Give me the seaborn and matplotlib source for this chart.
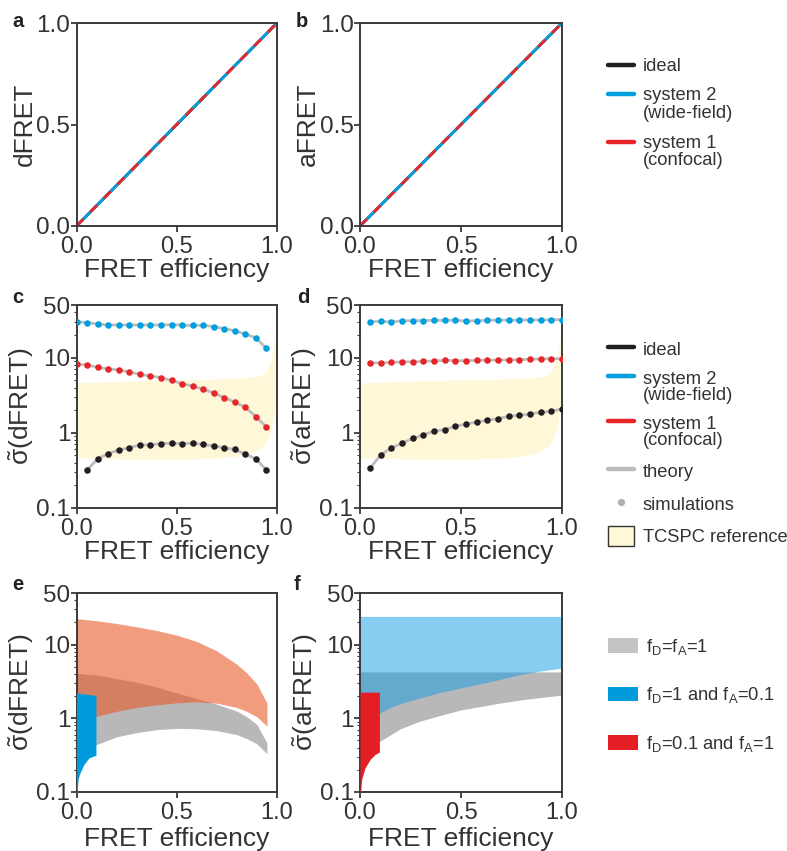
import numpy as np
import pandas as pd
import matplotlib
matplotlib.use("Agg")
import matplotlib.pyplot as plt
import seaborn as sns
from matplotlib.lines import Line2D
from matplotlib.patches import Patch
from matplotlib.ticker import LogLocator, NullFormatter, FixedLocator

# ---------------- data ----------------
# panels a, b (calibration lines)
E_ab = [0.0, 1.0]
dfret_ideal = [0.0, 1.0]
dfret_sys2 = [0.0, 1.0]
dfret_sys1 = [0.0, 1.0]
afret_ideal = [0.0, 1.0]
afret_sys2 = [0.0, 1.0]
afret_sys1 = [0.0, 1.0]

# panel c (dFRET precision)
E_c = [0.000, 0.053, 0.105, 0.158, 0.211, 0.263, 0.316, 0.368, 0.421, 0.474,
       0.526, 0.579, 0.632, 0.684, 0.737, 0.789, 0.842, 0.895, 0.947]
sig_d_sys2 = [30.0, 29.1, 28.0, 27.1, 27.1, 27.1, 27.1, 27.1, 27.1, 27.4,
              27.1, 26.7, 26.9, 25.8, 24.2, 22.8, 20.6, 18.2, 13.3]
sig_d_sys1 = [8.15, 7.97, 7.43, 7.05, 6.84, 6.44, 6.00, 5.69, 5.41, 4.99,
              4.50, 4.19, 3.79, 3.41, 2.93, 2.57, 2.18, 1.64, 1.19]
E_c_ideal = [0.053, 0.105, 0.158, 0.211, 0.263, 0.316, 0.368, 0.421, 0.474,
             0.526, 0.579, 0.632, 0.684, 0.737, 0.789, 0.842, 0.895, 0.947]
sig_d_ideal = [0.32, 0.45, 0.53, 0.59, 0.63, 0.69, 0.69, 0.72, 0.725,
               0.72, 0.725, 0.70, 0.67, 0.63, 0.60, 0.52, 0.45, 0.32]

# panel d (aFRET precision)
E_d = [0.053, 0.105, 0.158, 0.211, 0.263, 0.316, 0.368, 0.421, 0.474, 0.526,
       0.579, 0.632, 0.684, 0.737, 0.789, 0.842, 0.895, 0.947, 1.000]
sig_a_sys2 = [30.0, 30.2, 29.8, 30.8, 31.0, 31.0, 31.3, 31.3, 31.3, 30.6,
              31.0, 31.3, 31.6, 31.3, 31.6, 31.6, 31.6, 31.9, 31.9]
sig_a_sys1 = [8.5, 8.5, 8.6, 8.8, 8.8, 8.9, 9.0, 9.2, 9.1, 9.1,
              9.2, 9.2, 9.3, 9.3, 9.4, 9.5, 9.6, 9.7, 9.6]
sig_a_ideal = [0.34, 0.51, 0.63, 0.73, 0.84, 0.94, 1.05, 1.10, 1.22, 1.31,
               1.39, 1.47, 1.54, 1.66, 1.71, 1.78, 1.87, 1.93, 2.07]

# TCSPC reference band (panels c, d)
tcspc_E = [0.0, 0.1, 0.2, 0.3, 0.4, 0.5, 0.6, 0.7, 0.8, 0.85, 0.9, 0.93,
           0.95, 0.97, 0.98, 0.99, 0.997]
tcspc_lo = [0.47, 0.46, 0.45, 0.44, 0.44, 0.44, 0.45, 0.46, 0.49, 0.52, 0.58,
            0.66, 0.78, 1.05, 1.4, 2.0, 2.8]
tcspc_hi = [4.6, 4.7, 4.8, 4.9, 5.0, 5.05, 5.1, 5.2, 5.3, 5.4, 5.6, 6.0,
            6.8, 9.0, 12.0, 17.0, 24.0]

# panel e (dFRET bands)
e_gray_E = [0.0, 0.05, 0.1, 0.2, 0.3, 0.4, 0.5, 0.6, 0.7, 0.8, 0.85, 0.9, 0.95]
e_gray_lo = [0.40, 0.42, 0.44, 0.56, 0.64, 0.70, 0.73, 0.72, 0.68, 0.60, 0.53, 0.45, 0.33]
e_gray_hi = [4.08, 3.95, 3.87, 3.45, 3.08, 2.65, 2.20, 1.85, 1.55, 1.25, 1.05, 0.82, 0.46]
e_red_E = [0.0, 0.1, 0.2, 0.3, 0.4, 0.5, 0.6, 0.7, 0.8, 0.85, 0.9, 0.95]
e_red_lo = [0.90, 1.06, 1.24, 1.40, 1.52, 1.62, 1.67, 1.60, 1.40, 1.24, 1.05, 0.78]
e_red_hi = [22.5, 21.0, 19.3, 17.4, 15.5, 13.4, 11.0, 8.2, 5.4, 4.1, 2.9, 1.6]
e_blue_E = [0.0, 0.003, 0.008, 0.017, 0.037, 0.062, 0.097]
e_blue_lo = [0.08, 0.10, 0.15, 0.18, 0.236, 0.29, 0.315]
e_blue_hi = [2.19, 2.19, 2.18, 2.17, 2.14, 2.10, 2.04]

# panel f (aFRET bands)
f_gray_E = [0.0, 0.05, 0.1, 0.2, 0.3, 0.4, 0.5, 0.6, 0.7, 0.8, 0.9, 1.0]
f_gray_lo = [0.45, 0.47, 0.49, 0.72, 0.92, 1.10, 1.30, 1.45, 1.62, 1.78, 1.92, 2.06]
f_gray_hi = [4.25, 4.25, 4.25, 4.25, 4.25, 4.25, 4.25, 4.25, 4.25, 4.25, 4.25, 4.25]
f_blue_E = [0.0, 0.05, 0.1, 0.15, 0.2, 0.3, 0.4, 0.5, 0.6, 0.7, 0.8, 0.9, 1.0]
f_blue_lo = [1.00, 1.10, 1.19, 1.40, 1.58, 1.90, 2.25, 2.58, 2.95, 3.40, 3.95, 4.40, 4.80]
f_blue_hi = [24.1, 24.1, 24.1, 24.1, 24.1, 24.1, 24.1, 24.1, 24.1, 24.1, 24.1, 24.1, 24.1]
f_red_E = [0.0, 0.003, 0.008, 0.025, 0.05, 0.074, 0.096]
f_red_lo = [0.08, 0.10, 0.148, 0.213, 0.277, 0.323, 0.348]
f_red_hi = [2.26, 2.26, 2.26, 2.26, 2.26, 2.26, 2.26]

x_ticks = [0.0, 0.5, 1.0]
x_ticklabels = ["0.0", "0.5", "1.0"]
lin_yticks = [0.0, 0.5, 1.0]
lin_yticklabels = ["0.0", "0.5", "1.0"]
log_yticks = [0.1, 1, 10, 50]
log_yticklabels = ["0.1", "1", "10", "50"]

# ---------------- style ----------------
sns.set_theme(style="ticks")
plt.rcParams["font.family"] = ["Liberation Sans", "DejaVu Sans"]
plt.rcParams["mathtext.fontset"] = "custom"
plt.rcParams["mathtext.rm"] = "Liberation Sans"
plt.rcParams["mathtext.it"] = "Liberation Sans:italic"
plt.rcParams["mathtext.bf"] = "Liberation Sans:bold"
plt.rcParams["mathtext.default"] = "regular"

C_BLACK = "#231f20"
C_BLUE = "#00a0e0"
C_RED = "#e8262a"
C_THEORY = "#bdbdbd"
C_TCSPC = "#fff8d8"
C_SPINE = "#3a3a3a"
C_GRAY_BAND = "#b8b8b8"

fig = plt.figure(figsize=(7.87, 8.51), dpi=100)
W, H = 787.0, 851.0


def add_ax(x0, x1, y0, y1):
    return fig.add_axes([x0 / W, 1 - y1 / H, (x1 - x0) / W, (y1 - y0) / H])


ax_a = add_ax(76.5, 277, 23, 226)
ax_b = add_ax(360, 562, 23, 226)
ax_c = add_ax(76.5, 277, 305, 508)
ax_d = add_ax(359.5, 562, 305, 508)
ax_e = add_ax(76.5, 277, 593, 792)
ax_f = add_ax(360, 562, 593, 792)


def style_ax(ax, ylabel, log=False, xlab_y=-0.16):
    for s in ax.spines.values():
        s.set_color(C_SPINE)
        s.set_linewidth(1.4)
    ax.set_xlim(0, 1)
    ax.set_xticks(x_ticks)
    ax.set_xticklabels(x_ticklabels)
    if log:
        ax.set_yscale("log")
        ax.set_ylim(0.1, 50)
        ax.yaxis.set_major_locator(FixedLocator(log_yticks))
        ax.set_yticklabels(log_yticklabels)
        ax.yaxis.set_minor_locator(LogLocator(base=10, subs=np.arange(2, 10)))
        ax.yaxis.set_minor_formatter(NullFormatter())
    else:
        ax.set_ylim(0, 1)
        ax.set_yticks(lin_yticks)
        ax.set_yticklabels(lin_yticklabels)
    ax.tick_params(axis="both", which="major", direction="out", length=4,
                   width=1.3, color=C_SPINE, labelcolor="#333333")
    ax.tick_params(axis="x", which="major", labelsize=17, pad=3)
    ax.tick_params(axis="y", which="major", labelsize=17.5, pad=0.5)
    ax.tick_params(axis="y", which="minor", direction="out", length=2,
                   width=0.8, color=C_SPINE)
    ax.tick_params(axis="x", which="minor", bottom=False)
    ax.set_xlabel("FRET efficiency", fontsize=19, color="#333333")
    ax.set_ylabel(ylabel, fontsize=19, color="#333333")
    ax.xaxis.set_label_coords(0.5, xlab_y)
    ax.yaxis.set_label_coords(-0.2, 0.5)
    ax.set_facecolor("white")


# ---- panel a / b ----
for ax, ideal, s2, s1, lab in [
    (ax_a, dfret_ideal, dfret_sys2, dfret_sys1, "dFRET"),
    (ax_b, afret_ideal, afret_sys2, afret_sys1, "aFRET"),
]:
    sns.lineplot(x=E_ab, y=ideal, ax=ax, color=C_BLACK, linewidth=2)
    sns.lineplot(x=E_ab, y=s2, ax=ax, color=C_BLUE, linewidth=2)
    sns.lineplot(x=E_ab, y=s1, ax=ax, color=C_RED, linewidth=2)
    ax.lines[-1].set_dashes([3.5, 3.5])
    style_ax(ax, lab, log=False)


# ---- panel c / d ----
def precision_panel(ax, Es, s2, s1, Ei, si, lab):
    ax.fill_between(tcspc_E, tcspc_lo, tcspc_hi, color=C_TCSPC, linewidth=0, zorder=0)
    for xx, yy, col in [(Es, s2, C_BLUE), (Es, s1, C_RED), (Ei, si, C_BLACK)]:
        sns.lineplot(x=xx, y=yy, ax=ax, color=C_THEORY, linewidth=2, zorder=2)
        sns.scatterplot(x=xx, y=yy, ax=ax, color=col, s=22, linewidth=0, zorder=3)
    style_ax(ax, lab, log=True)


precision_panel(ax_c, E_c, sig_d_sys2, sig_d_sys1, E_c_ideal, sig_d_ideal,
                r"$\tilde{\sigma}$(dFRET)")
precision_panel(ax_d, E_d, sig_a_sys2, sig_a_sys1, E_d, sig_a_ideal,
                r"$\tilde{\sigma}$(aFRET)")

# ---- panel e ----
ax_e.fill_between(e_gray_E, e_gray_lo, e_gray_hi, color=C_GRAY_BAND, linewidth=0, zorder=1)
ax_e.fill_between(e_red_E, e_red_lo, e_red_hi, color="#e8582a", alpha=0.6, linewidth=0, zorder=2)
ax_e.fill_between(e_blue_E, e_blue_lo, e_blue_hi, color="#009bdc", linewidth=0, zorder=3)
style_ax(ax_e, r"$\tilde{\sigma}$(dFRET)", log=True, xlab_y=-0.175)

# ---- panel f ----
ax_f.fill_between(f_gray_E, f_gray_lo, f_gray_hi, color=C_GRAY_BAND, linewidth=0, zorder=1)
ax_f.fill_between(f_blue_E, f_blue_lo, f_blue_hi, color="#0f9de5", alpha=0.5, linewidth=0, zorder=2)
ax_f.fill_between(f_red_E, f_red_lo, f_red_hi, color="#e31e24", linewidth=0, zorder=3)
style_ax(ax_f, r"$\tilde{\sigma}$(aFRET)", log=True, xlab_y=-0.175)

# ---- panel letters ----
for letter, (px, py) in {"a": (12, 27), "b": (296, 27), "c": (12, 303),
                         "d": (297, 303), "e": (12, 590), "f": (294, 590)}.items():
    fig.text(px / W, 1 - py / H, letter, fontsize=14.5, fontweight="bold",
             color="#222222", ha="left", va="baseline")

# ---- legends ----
LEG_FS = 13.2


def shift_multiline(leg, labels, dy=7.5):
    for h, lab in zip(leg.legend_handles, labels):
        if "\n" in lab and isinstance(h, Line2D):
            yd = np.asarray(h.get_ydata(), dtype=float)
            h.set_ydata(yd + dy)


top_handles = [Line2D([], [], color=C_BLACK, lw=3.2),
               Line2D([], [], color=C_BLUE, lw=3.2),
               Line2D([], [], color=C_RED, lw=3.2)]
top_labels = ["ideal", "system 2\n(wide-field)", "system 1\n(confocal)"]
leg1 = fig.legend(top_handles, top_labels, loc="upper left",
                  bbox_to_anchor=(608 / W, 1 - 58 / H), frameon=False,
                  fontsize=LEG_FS, handlelength=1.4, handletextpad=0.5,
                  labelspacing=0.68, borderpad=0, borderaxespad=0)
shift_multiline(leg1, top_labels)
for t in leg1.get_texts():
    t.set_color("#333333")
    t.set_linespacing(1.05)

mid_handles = [Line2D([], [], color=C_BLACK, lw=3.2),
               Line2D([], [], color=C_BLUE, lw=3.2),
               Line2D([], [], color=C_RED, lw=3.2),
               Line2D([], [], color=C_THEORY, lw=3.2),
               Line2D([], [], color="#b0b0b0", lw=0, marker="o", markersize=4.2),
               Patch(facecolor=C_TCSPC, edgecolor="#333333", linewidth=1)]
mid_labels = ["ideal", "system 2\n(wide-field)", "system 1\n(confocal)",
              "theory", "simulations", "TCSPC reference"]
leg2 = fig.legend(mid_handles, mid_labels, loc="upper left",
                  bbox_to_anchor=(608 / W, 1 - 339 / H), frameon=False,
                  fontsize=LEG_FS, handlelength=1.4, handletextpad=0.5,
                  handleheight=1.3, labelspacing=0.66, borderpad=0,
                  borderaxespad=0)
shift_multiline(leg2, mid_labels, dy=7.0)
for t in leg2.get_texts():
    t.set_color("#333333")
    t.set_linespacing(0.92)

bot_handles = [Patch(facecolor="#c4c4c4", edgecolor="none"),
               Patch(facecolor="#009bdc", edgecolor="none"),
               Patch(facecolor="#e31e24", edgecolor="none")]
bot_labels = [r"f$_\mathrm{D}$=f$_\mathrm{A}$=1",
              r"f$_\mathrm{D}$=1 and f$_\mathrm{A}$=0.1",
              r"f$_\mathrm{D}$=0.1 and f$_\mathrm{A}$=1"]
leg3 = fig.legend(bot_handles, bot_labels, loc="upper left",
                  bbox_to_anchor=(608 / W, 1 - 637 / H), frameon=False,
                  fontsize=LEG_FS, handlelength=1.65, handletextpad=0.45,
                  handleheight=0.85, labelspacing=1.55, borderpad=0,
                  borderaxespad=0)
for t in leg3.get_texts():
    t.set_color("#333333")

fig.savefig("out.png", dpi=100)
